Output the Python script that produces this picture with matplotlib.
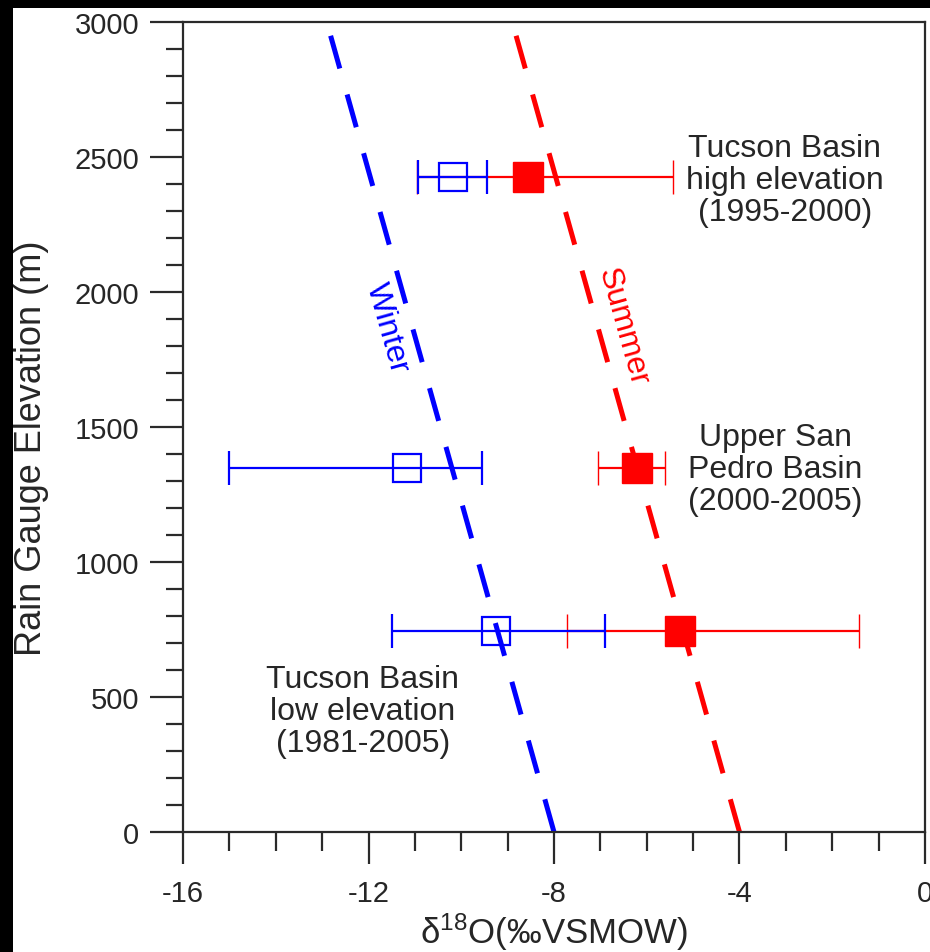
import matplotlib
matplotlib.use("Agg")
import matplotlib.pyplot as plt
from matplotlib.patches import Rectangle
from matplotlib.ticker import MultipleLocator

plt.rcParams["font.family"] = ["Liberation Sans", "DejaVu Sans"]
plt.rcParams["mathtext.default"] = "regular"
plt.rcParams["axes.unicode_minus"] = False

# ---- data ----
elev = [2425, 1350, 745]
winter_mean = [-10.18, -11.17, -9.25]
winter_lo = [-10.93, -15.01, -11.49]
winter_hi = [-9.44, -9.55, -6.90]
summer_mean = [-8.56, -6.21, -5.28]
summer_lo = [-10.96, -7.05, -7.72]
summer_hi = [-5.43, -5.61, -1.42]

line_y = [0, 3000]
winter_line_x = [-8.0, -12.9]
summer_line_x = [-4.0, -8.9]

site_labels = [
    "Tucson Basin\nhigh elevation\n(1995-2000)",
    "Upper San\nPedro Basin\n(2000-2005)",
    "Tucson Basin\nlow elevation\n(1981-2005)",
]
site_label_xy = [(-3.02, 2415), (-3.23, 1344), (-12.12, 448)]

BLUE = "#0000ff"
RED = "#ff0000"
TXT = "#262626"

fig = plt.figure(figsize=(9.3, 9.53), dpi=100, facecolor="white")
ax = fig.add_axes([0.1968, 0.1259, 0.7978, 0.8499])

# regression lines
ax.plot(winter_line_x, line_y, color=BLUE, lw=3.6, dashes=(6.8, 5.4), zorder=1)
ax.plot(summer_line_x, line_y, color=RED, lw=3.6, dashes=(6.8, 5.4), zorder=1)

# summer first, winter on top
s_err = [[m - lo for m, lo in zip(summer_mean, summer_lo)],
         [hi - m for m, hi in zip(summer_mean, summer_hi)]]
w_err = [[m - lo for m, lo in zip(winter_mean, winter_lo)],
         [hi - m for m, hi in zip(winter_mean, winter_hi)]]

ax.errorbar(summer_mean, elev, xerr=s_err, fmt="s", color=RED, ms=22,
            mfc=RED, mec=RED, mew=1, elinewidth=1.6, capsize=12.2,
            capthick=1.6, zorder=3)
ax.errorbar(winter_mean, elev, xerr=w_err, fmt="s", color=BLUE, ms=20,
            mfc="none", mec=BLUE, mew=1.6, elinewidth=1.6, capsize=12.2,
            capthick=1.6, zorder=4)

for txt, (x, y) in zip(site_labels, site_label_xy):
    ax.text(x, y, txt, ha="center", va="center", fontsize=23,
            color=TXT, linespacing=1.08)

ax.text(-11.60, 1870, "Winter", color=BLUE, fontsize=23, rotation=-74.3,
        rotation_mode="anchor", ha="center", va="center")
ax.text(-6.51, 1874, "Summer", color=RED, fontsize=23, rotation=-74.3,
        rotation_mode="anchor", ha="center", va="center")

ax.set_xlim(-16, 0)
ax.set_ylim(0, 3000)
ax.xaxis.set_major_locator(MultipleLocator(4))
ax.xaxis.set_minor_locator(MultipleLocator(1))
ax.yaxis.set_major_locator(MultipleLocator(500))
ax.yaxis.set_minor_locator(MultipleLocator(100))

for sp in ax.spines.values():
    sp.set_linewidth(1.6)
    sp.set_color("#2a2a2a")

ax.tick_params(axis="both", which="both", direction="out", top=False,
               right=False, width=1.6, color="#2a2a2a", labelcolor=TXT)
ax.tick_params(axis="y", which="major", length=23.5, pad=8, labelsize=21)
ax.tick_params(axis="y", which="minor", length=12)
ax.tick_params(axis="x", which="major", length=23, pad=11, labelsize=21)
ax.tick_params(axis="x", which="minor", length=13.5)

ax.set_ylabel("Rain Gauge Elevation (m)", fontsize=26, color=TXT)
ax.yaxis.set_label_coords(-0.181, 0.475)
ax.set_xlabel("δ$^{18}$O(‰VSMOW)", fontsize=25, color=TXT, labelpad=2)

# black frame cut along the top and left edges
fig.patches.append(Rectangle((0, 0), 13 / 930, 1, transform=fig.transFigure,
                             facecolor="black", edgecolor="none", zorder=10))
fig.patches.append(Rectangle((0, 1 - 9 / 953), 1, 9 / 953,
                             transform=fig.transFigure, facecolor="black",
                             edgecolor="none", zorder=10))

fig.savefig("out.png", dpi=100)
